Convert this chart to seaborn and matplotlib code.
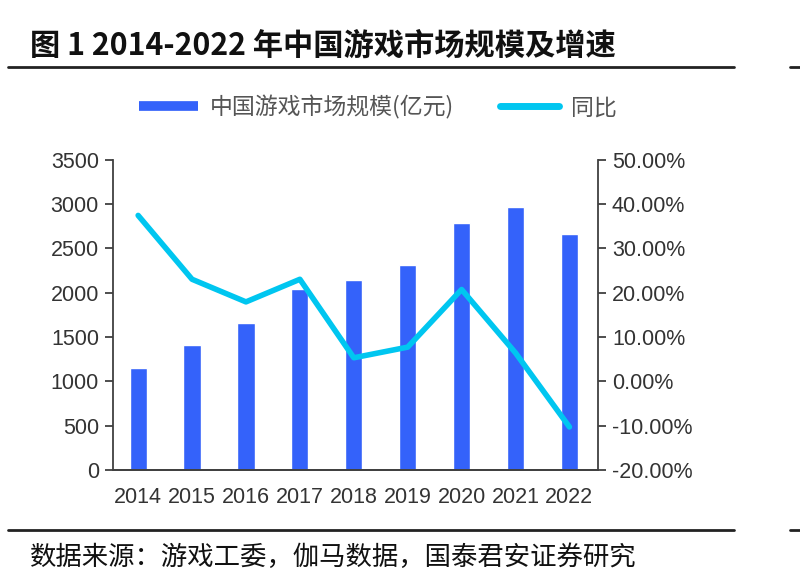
import pandas as pd
import seaborn as sns
import matplotlib.pyplot as plt
from matplotlib.lines import Line2D
from matplotlib.ticker import FuncFormatter

years = ["2014", "2015", "2016", "2017", "2018", "2019", "2020", "2021", "2022"]
market_size = [1144.8, 1407.0, 1655.7, 2036.1, 2144.4, 2308.8, 2786.9, 2965.1, 2658.8]
yoy_pct = [37.4, 23.0, 17.9, 23.0, 5.3, 7.7, 20.7, 6.4, -10.3]

df = pd.DataFrame({"year": years, "size": market_size, "yoy": yoy_pct})
df["pos"] = range(len(years))

bar_color = "#3462FA"
line_color = "#00C6F0"
axis_color = "#404040"

sns.set_style("white")
plt.rcParams["font.family"] = ["Liberation Sans", "Noto Sans CJK SC"]
cjk = ["Noto Sans CJK SC", "DejaVu Sans"]

fig = plt.figure(figsize=(8, 5.88), dpi=100)
ax = fig.add_axes([0.141, 0.2007, 0.6065, 0.528])

sns.barplot(data=df, x="year", y="size", color=bar_color, width=0.32,
            saturation=1, ax=ax, label="中国游戏市场规模(亿元)")
ax.set_ylim(0, 3500)
ax.set_yticks(range(0, 3501, 500))
ax.set_xlim(-0.47, 8.53)
ax.set_xlabel("")
ax.set_ylabel("")

ax2 = ax.twinx()
sns.lineplot(data=df, x="pos", y="yoy", color=line_color, linewidth=4,
             ax=ax2, label="同比")
ax2.set_ylim(-20, 50)
ax2.set_yticks(range(-20, 51, 10))
ax2.yaxis.set_major_formatter(FuncFormatter(lambda v, p: f"{v:.2f}%"))
ax2.set_xlim(-0.47, 8.53)
ax2.set_ylabel("")
ax2.set_xlabel("")

for a in (ax, ax2):
    for s in a.spines.values():
        s.set_color(axis_color)
        s.set_linewidth(1.3)
    a.spines["top"].set_visible(False)
    a.tick_params(axis="y", direction="out", length=6, width=1.3,
                  color=axis_color, labelsize=15.5, labelcolor="#333333", pad=4)
    a.tick_params(axis="x", length=0, labelsize=15.5, labelcolor="#333333", pad=12)
ax.spines["right"].set_visible(False)
ax2.spines["left"].set_visible(False)
ax.tick_params(axis="y", left=True)
ax2.tick_params(axis="y", right=True)

# combined legend above plot
if ax.get_legend():
    ax.get_legend().remove()
if ax2.get_legend():
    ax2.get_legend().remove()
handles = [Line2D([], [], color=bar_color, linewidth=7, solid_capstyle="butt"),
           Line2D([], [], color=line_color, linewidth=5, solid_capstyle="round")]
fig.legend(handles, ["中国游戏市场规模(亿元)", "同比"], loc="center",
           bbox_to_anchor=(0.472, 0.818), ncol=2, frameon=False,
           prop={"family": cjk, "size": 16.5}, labelcolor="#555555",
           handlelength=2.6, handletextpad=0.5, columnspacing=2.0)

fig.text(0.038, 0.923, "图 1 2014-2022 年中国游戏市场规模及增速",
         family=cjk, fontsize=21.8, fontweight="bold", color="#111111",
         va="center", ha="left")
fig.text(0.038, 0.052, "数据来源：游戏工委，伽马数据，国泰君安证券研究",
         family=cjk, fontsize=19, color="#111111", va="center", ha="left")

for y in (1 - 67 / 588, 1 - 530 / 588):
    fig.add_artist(Line2D([0.01, 0.917], [y, y], color="#222222", linewidth=2))
    fig.add_artist(Line2D([0.988, 1.0], [y, y], color="#222222", linewidth=2))

fig.savefig("out.png", dpi=100)
